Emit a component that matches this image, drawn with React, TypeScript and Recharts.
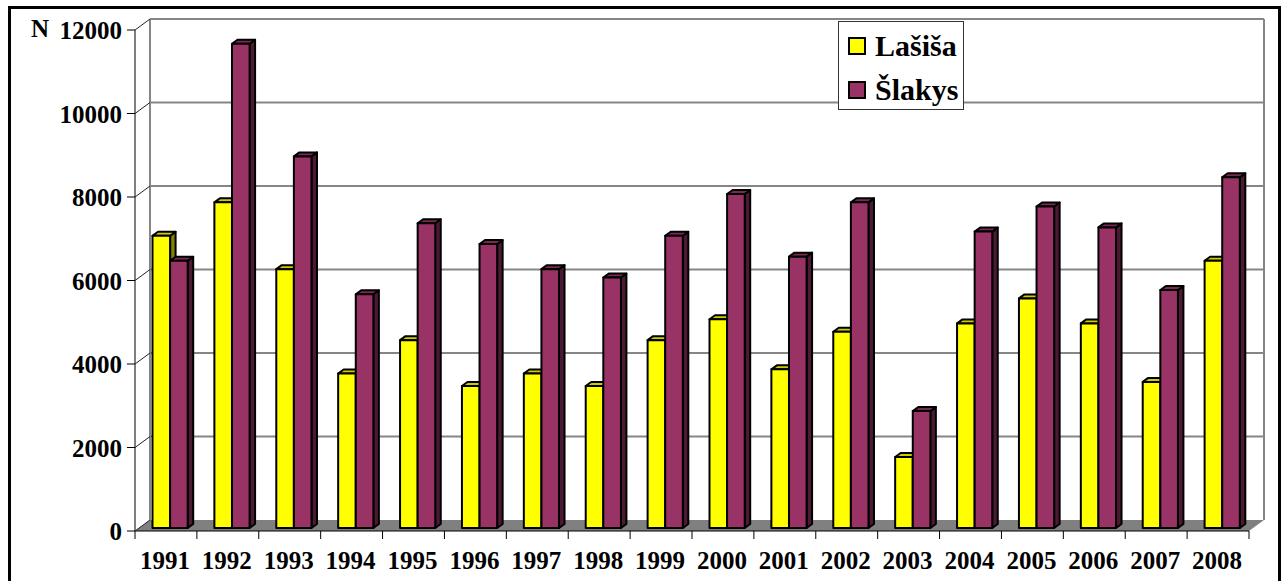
import React from "react";
import { Bar, BarChart, Legend, XAxis, YAxis, usePlotArea } from "recharts";

const years = ["1991", "1992", "1993", "1994", "1995", "1996", "1997", "1998", "1999", "2000", "2001", "2002", "2003", "2004", "2005", "2006", "2007", "2008"];
const lasisa = [7000, 7800, 6200, 3700, 4500, 3400, 3700, 3400, 4500, 5000, 3800, 4700, 1700, 4900, 5500, 4900, 3500, 6400];
const slakys = [6400, 11600, 8900, 5600, 7300, 6800, 6200, 6000, 7000, 8000, 6500, 7800, 2800, 7100, 7700, 7200, 5700, 8400];
const yTicks = [0, 2000, 4000, 6000, 8000, 10000, 12000];

const data = years.map((year, i) => ({ year, lasisa: lasisa[i], slakys: slakys[i] }));

const FONT = '"Liberation Serif", serif';
const WALL_X = 15;
const WALL_Y = -11;
const GRID = "#868686";
const LEGEND_H = 89;

// back wall and floor of the fake 3D box, behind the bars
function Box() {
  const plot = usePlotArea();
  if (!plot) return null;
  const { x, y, width, height } = plot;
  const bottom = y + height;
  const step = height / (yTicks.length - 1);
  return (
    <g>
      <polygon
        points={`${x},${bottom} ${x + WALL_X},${bottom + WALL_Y} ${x + width + WALL_X},${bottom + WALL_Y} ${x + width},${bottom}`}
        fill="#808080"
      />
      {yTicks.slice(1).map((t, i) => (
        <line
          key={t}
          x1={x + WALL_X}
          x2={x + width + WALL_X}
          y1={bottom - step * (i + 1) + WALL_Y}
          y2={bottom - step * (i + 1) + WALL_Y}
          stroke={GRID}
          strokeWidth={2}
        />
      ))}
      <line x1={x + WALL_X} x2={x + WALL_X} y1={y + WALL_Y} y2={bottom + WALL_Y} stroke={GRID} strokeWidth={2} />
      <line x1={x + width + WALL_X} x2={x + width + WALL_X} y1={y + WALL_Y} y2={bottom + WALL_Y} stroke={GRID} strokeWidth={2} />
    </g>
  );
}

function Bar3D({ x, y, width, height, fill, side, top }: any) {
  const dx = 4.5;
  const dy = -3;
  const sx = 5.5;
  const sy = -4;
  const l = x + dx;
  const r = l + width;
  const t = y + dy;
  const b = t + height;
  return (
    <g stroke="#000" strokeWidth={2} strokeLinejoin="round">
      <polygon points={`${r},${t} ${r + sx},${t + sy} ${r + sx},${b + sy} ${r},${b}`} fill={side} />
      <polygon points={`${l},${t} ${l + sx},${t + sy} ${r + sx},${t + sy} ${r},${t}`} fill={top} />
      <rect x={l} y={t} width={width} height={height} fill={fill} />
    </g>
  );
}

function YTick({ y, payload, axisX }: any) {
  return (
    <g>
      <line x1={axisX - 8} x2={axisX} y1={y} y2={y} stroke="#000" />
      <line x1={axisX} x2={axisX + WALL_X} y1={y} y2={y + WALL_Y} stroke="#222" />
      <text x={axisX - 13} y={y + 9} textAnchor="end" fontFamily={FONT} fontWeight="bold" fontSize={25} fill="#000">
        {payload.value}
      </text>
    </g>
  );
}

function XTick({ x, payload, index, bandWidth, axisY }: any) {
  const left = x - bandWidth / 2;
  return (
    <g>
      <line x1={left} x2={left} y1={axisY} y2={axisY + 8} stroke="#000" />
      {index === years.length - 1 && <line x1={left + bandWidth} x2={left + bandWidth} y1={axisY} y2={axisY + 8} stroke="#000" />}
      <text x={x - 1} y={axisY + 38} textAnchor="middle" fontFamily={FONT} fontWeight="bold" fontSize={25} fill="#000">
        {payload.value}
      </text>
    </g>
  );
}

function LegendBox() {
  const items = [
    { name: "Lašiša", color: "#ffff00" },
    { name: "Šlakys", color: "#993366" },
  ];
  return (
    <div style={{ width: 124, height: 87, background: "#fff", border: "1px solid #333", position: "relative" }}>
      {items.map((it, i) => (
        <div key={it.name} style={{ position: "absolute", left: 9, top: 8 + i * 44, display: "flex", alignItems: "center", height: 32 }}>
          <span style={{ width: 14, height: 14, background: it.color, border: "2px solid #000", marginRight: 9, display: "inline-block" }} />
          <span style={{ fontFamily: FONT, fontWeight: "bold", fontSize: 30, color: "#000" }}>{it.name}</span>
        </div>
      ))}
    </div>
  );
}

export default function App() {
  const bandWidth = 1114 / years.length;
  return (
    <div style={{ position: "absolute", left: 0, top: 0, width: 1284, height: 581, overflow: "hidden", background: "#fff" }}>
      <div style={{ position: "absolute", left: 8, top: 6, width: 1267, height: 600, border: "3px solid #000" }} />
      <div style={{ position: "absolute", left: 31, top: 15, fontFamily: FONT, fontWeight: "bold", fontSize: 25, color: "#000" }}>N</div>
      <BarChart
        width={1284}
        height={581}
        data={data}
        margin={{ top: 30, right: 35, bottom: -LEGEND_H, left: 75 }}
        barSize={17.6}
        barGap={0}
        style={{ position: "absolute", left: 0, top: 0 }}
      >
        <Box />
        <XAxis
          dataKey="year"
          height={50}
          interval={0}
          axisLine={{ stroke: "#000" }}
          tickLine={false}
          tick={<XTick bandWidth={bandWidth} axisY={531} />}
        />
        <YAxis
          width={60}
          domain={[0, 12000]}
          ticks={yTicks}
          axisLine={{ stroke: "#000" }}
          tickLine={false}
          tick={<YTick axisX={135} />}
        />
        <Legend
          content={<LegendBox />}
          wrapperStyle={{ position: "absolute", left: 838, top: 21, width: 126, height: LEGEND_H, bottom: "auto" }}
        />
        <Bar dataKey="lasisa" name="Lašiša" fill="#ffff00" isAnimationActive={false} shape={<Bar3D side="#808000" top="#cccc00" />} />
        <Bar dataKey="slakys" name="Šlakys" fill="#993366" isAnimationActive={false} shape={<Bar3D side="#4d1a33" top="#7a2952" />} />
      </BarChart>
    </div>
  );
}
